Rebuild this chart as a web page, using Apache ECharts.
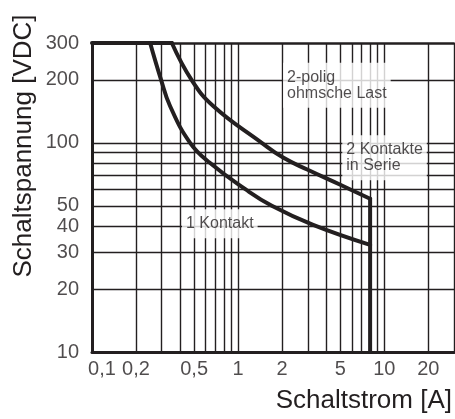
<!DOCTYPE html>
<html>
<head>
<meta charset="utf-8">
<script src="https://cdn.jsdelivr.net/npm/echarts@6/dist/echarts.min.js"></script>
<style>
  html, body { margin: 0; padding: 0; background: #fff; }
  #chart { width: 455px; height: 419px; }
</style>
</head>
<body>
<div id="chart"></div>
<script>
// tick labels
const xTicks = [0.1, 0.2, 0.5, 1, 2, 5, 10, 20]
const yTicks = [10, 20, 30, 40, 50, 100, 200, 300]
// grid lines
const xGrid = [0.2, 0.3, 0.4, 0.5, 0.6, 0.7, 0.8, 0.9, 1, 2, 3, 4, 5, 6, 7, 8, 9, 10, 20, 30]
const yGrid = [20, 30, 40, 50, 60, 70, 80, 90, 100, 200]
// curves [A, VDC]
const curve1 = [[0.25, 300], [0.297, 200], [0.342, 150], [0.469, 100], [0.643, 80], [1.12, 60], [1.7, 50], [3.26, 40.5], [8, 32.5]]
const curve2 = [[0.352, 300], [0.48, 200], [0.675, 150], [1.45, 100], [2.03, 85], [2.97, 74.5], [5.0, 63], [8, 54]]
const top1 = [[0.1, 300], [0.25, 300]]
const top2 = [[0.25, 300], [0.352, 300]]
const drop = [[8, 54], [8, 10]]
// annotations [A, VDC, text]
const notes = [
  [2.03, 188.5, '2-polig\nohmsche Last'],
  [5.16, 84.8, '2 Kontakte\nin Serie'],
  [0.413, 41.0, '1 Kontakt']
]

const ink = '#231f20'
const font = 'Liberation Sans, Arial, Helvetica, sans-serif'

const chart = echarts.init(document.getElementById('chart'))

function curveSeries(data, smooth) {
  return {
    type: 'line',
    data: data,
    smooth: smooth,
    symbol: 'none',
    z: 5,
    lineStyle: { color: ink, width: 4, cap: 'round', join: 'round' }
  }
}

chart.setOption({
  animation: false,
  grid: { left: 92, right: 1, top: 43, bottom: 67 },
  xAxis: [{
    type: 'log',
    min: 0.1,
    max: 30,
    axisLine: { show: true, onZero: false, lineStyle: { color: ink, width: 3 } },
    axisTick: { show: false },
    axisLabel: { show: false },
    splitLine: { show: false }
  }, {
    type: 'log',
    position: 'top',
    min: 0.1,
    max: 30,
    axisLine: { show: true, lineStyle: { color: ink, width: 2.5 } },
    axisTick: { show: false },
    axisLabel: { show: false },
    splitLine: { show: false }
  }],
  yAxis: {
    type: 'log',
    min: 10,
    max: 300,
    axisLine: { show: true, onZero: false, lineStyle: { color: ink, width: 3 } },
    axisTick: { show: false },
    axisLabel: { show: false },
    splitLine: { show: false }
  },
  graphic: [{
    type: 'text',
    x: 24,
    y: 146,
    rotation: Math.PI / 2,
    style: {
      text: 'Schaltspannung [VDC]',
      fill: ink,
      font: '26px ' + font,
      textAlign: 'center',
      textVerticalAlign: 'middle'
    }
  }, {
    type: 'text',
    right: 3,
    top: 388,
    style: {
      text: 'Schaltstrom [A]',
      fill: ink,
      font: '26px ' + font
    }
  }],
  series: [
    {
      type: 'scatter',
      data: [],
      silent: true,
      z: 1,
      markLine: {
        silent: true,
        symbol: 'none',
        animation: false,
        label: { show: false },
        lineStyle: { color: ink, width: 1.4, type: 'solid' },
        data: xGrid.map(v => ({ xAxis: v })).concat(yGrid.map(v => ({ yAxis: v })))
      }
    },
    {
      type: 'scatter',
      symbolSize: 0,
      silent: true,
      data: xTicks.map(v => ({
        value: [v, 10],
        label: v === 0.1 ? { offset: [10, 0] } : {}
      })),
      label: {
        show: true,
        position: 'bottom',
        distance: 7,
        color: ink,
        fontSize: 20,
        fontFamily: font,
        formatter: p => String(p.value[0]).replace('.', ',')
      }
    },
    {
      type: 'scatter',
      symbolSize: 0,
      silent: true,
      data: yTicks.map(v => [0.1, v]),
      label: {
        show: true,
        position: 'left',
        distance: 13,
        color: ink,
        fontSize: 20,
        fontFamily: font,
        formatter: p => String(p.value[1])
      }
    },
    curveSeries(top1, false),
    curveSeries(top2, false),
    curveSeries(curve1, 0.45),
    curveSeries(curve2, 0.45),
    curveSeries(drop, false),
    {
      type: 'scatter',
      symbolSize: 0,
      silent: true,
      z: 10,
      data: notes,
      label: {
        show: true,
        position: 'right',
        distance: 0,
        color: ink,
        fontSize: 16,
        lineHeight: 16,
        fontFamily: font,
        backgroundColor: '#fff',
        padding: [6, 4, 7, 4],
        formatter: p => p.value[2]
      }
    }
  ]
})
</script>
</body>
</html>
